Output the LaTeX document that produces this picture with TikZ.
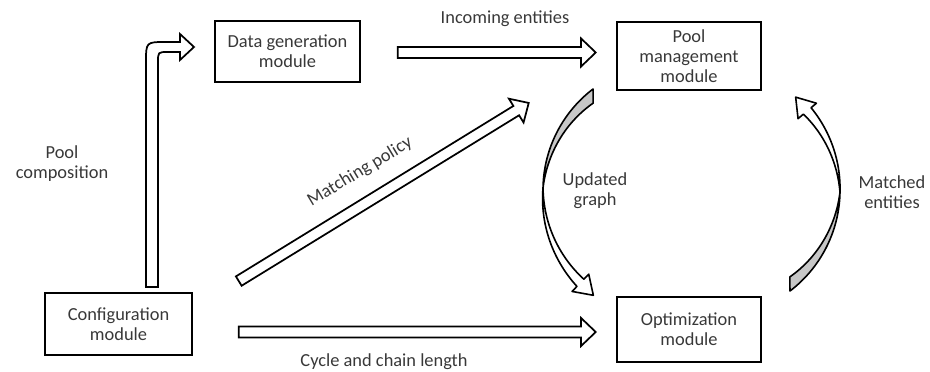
\documentclass[tikz,border=0pt]{standalone}
\usepackage{fontspec}
\setmainfont{Carlito}
\usepackage{xcolor}
\usetikzlibrary{calc}
\definecolor{ribbongray}{gray}{0.78}
\definecolor{labelgray}{gray}{0.22}
\newcommand{\modfont}{\fontsize{13.8}{15}\selectfont}
\tikzset{
  mbox/.style={draw, line width=1.4pt, align=center, inner sep=3pt,
               minimum width=108.5pt, font=\modfont, text=labelgray},
  mlabel/.style={align=center, font=\modfont, text=labelgray},
  barrow/.style={draw, fill=white, line width=1.3pt, line join=miter},
  ribbon/.style={draw, line width=1.2pt, line join=round},
}
% straight hollow block arrow between two named coordinates
\newcommand{\blockarrow}[2]{%
  \path let \p1 = ($(#2)-(#1)$) in
    \pgfextra{\pgfmathsetmacro{\barang}{atan2(\y1,\x1)}%
              \pgfmathsetmacro{\barlen}{veclen(\x1,\y1)}%
              \xdef\barang{\barang}\xdef\barlen{\barlen}};
  \filldraw[barrow, shift={(#1)}, rotate=\barang]
    (0pt,-4.1pt) -- ({\barlen pt-11pt},-4.1pt) -- ({\barlen pt-11pt},-10.5pt)
    -- (\barlen pt,0pt) -- ({\barlen pt-11pt},10.5pt) -- ({\barlen pt-11pt},4.1pt)
    -- (0pt,4.1pt) -- cycle;
}
% twisted curved arrow around the origin (tail up, head down)
% #1 = angle of the head base, #2 = radius of the head's middle
\newcommand{\ribbonarrow}[2]{%
  \filldraw[ribbon, fill=ribbongray]
    plot[domain=232.7:181, samples=40] ({127*cos(\x)},{127*sin(\x)})
    -- plot[domain=181:228.5, samples=40]
       ({(127-11*(\x-181)/47.5)*cos(\x)},{(127-11*(\x-181)/47.5)*sin(\x)})
    -- cycle;
  \filldraw[ribbon, fill=white]
    plot[domain=181:#1, samples=40]
       ({(127+(#2-5-127)*(181-\x)/(181-#1))*cos(\x)},{(127+(#2-5-127)*(181-\x)/(181-#1))*sin(\x)})
    -- ({(#2-12)*cos(#1)},{(#2-12)*sin(#1)})
    -- ({#2*cos(#1)+18*sin(#1)},{#2*sin(#1)-18*cos(#1)})
    -- ({(#2+12)*cos(#1)},{(#2+12)*sin(#1)})
    -- plot[domain=#1:181, samples=40]
       ({(127+(#2+5-127)*(181-\x)/(181-#1))*cos(\x)},{(127+(#2+5-127)*(181-\x)/(181-#1))*sin(\x)})
    -- cycle;
}

\begin{document}
\begin{tikzpicture}[x=0.75pt, y=-0.75pt]
\useasboundingbox (0,0) rectangle (930,371);
% ---- modules ----
\node[mbox, minimum height=45.75pt] (datagen) at (287.5,51.5) {Data generation\\module};
\node[mbox, minimum height=51pt] (poolmgmt) at (689,56) {Pool\\management\\module};
\node[mbox, minimum height=48.75pt] (optim) at (689,329.5) {Optimization\\module};
\node[mbox, minimum width=110pt, minimum height=46.5pt] (config) at (118.5,324)
  {Configuration\\module};
% ---- arrow ends ----
\coordinate (inc-s) at ($(datagen.east)+(37,1)$);
\coordinate (inc-e) at ($(poolmgmt.west)+(-20,-3.5)$);
\coordinate (cyc-s) at ($(config.east)+(46,8)$);
\coordinate (cyc-e) at ($(optim.west)+(-20,2.5)$);
\coordinate (mat-s) at ($(config.north east)+(46,-11)$);
\coordinate (mat-e) at ($(poolmgmt.south west)+(-87,12)$);
% ---- straight arrows ----
\blockarrow{inc-s}{inc-e}
\blockarrow{cyc-s}{cyc-e}
\blockarrow{mat-s}{mat-e}
% ---- bent arrow up to the data generation module ----
\filldraw[barrow] (146,287) -- (146,62) .. controls (146,42) .. (166,42) -- (180,42)
  -- (180,34) -- (194,47) -- (180,60) -- (180,52) -- (168,52)
  .. controls (158,52) .. (158,62) -- (158,287) -- cycle;
% ---- curved arrows between pool and optimization ----
\begin{scope}[shift={(670,190)}]
  \ribbonarrow{134}{129}
\end{scope}
\begin{scope}[shift={(713,190)}, rotate=180]
  \ribbonarrow{140}{123}
\end{scope}
% ---- labels ----
\node[mlabel] (inc-lab) at (505,19) {Incoming entities};
\node[mlabel] (cyc-lab) at (384,362) {Cycle and chain length};
\node[mlabel, rotate=31] (mat-lab) at (360,172) {Matching policy};
\node[mlabel] (pc-lab) at (62,164) {Pool\\composition};
\node[mlabel] (ug-lab) at (595,191) {Updated\\graph};
\node[mlabel] (me-lab) at (892,192) {Matched\\entities};
\end{tikzpicture}
\end{document}
